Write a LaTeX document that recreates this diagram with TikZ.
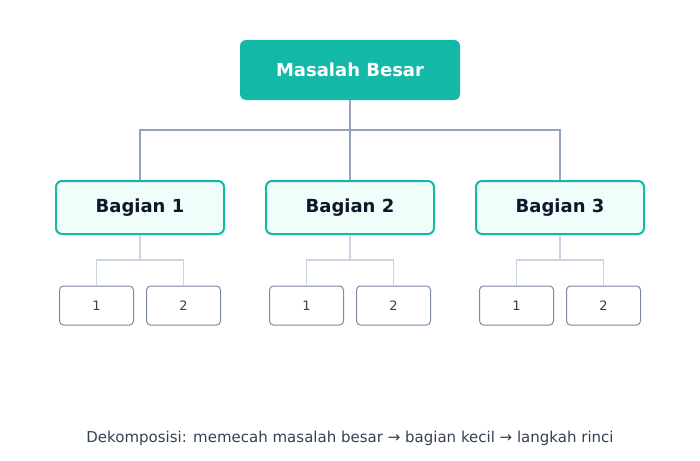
\documentclass[tikz,border=0pt]{standalone}
\usepackage{fontspec}
\setmainfont{DejaVu Sans}
\usetikzlibrary{positioning}
\definecolor{teal}{HTML}{14B8A6}
\definecolor{tealpale}{HTML}{F0FDFA}
\definecolor{slate}{HTML}{94A3B8}
\definecolor{slatelight}{HTML}{CBD5E1}
\definecolor{ink}{HTML}{0F172A}
\definecolor{smallink}{HTML}{334155}
\definecolor{smallbd}{HTML}{7C8AA5}
\begin{document}
\begin{tikzpicture}[%
	x=1pt, y=-1pt,
	every node/.style={font=\fontsize{13}{15}\selectfont},
	]
	% -------------------------------------------------
	% Box and connector styles
	\tikzset{
		root/.style={rectangle, rounded corners=6pt, fill=teal, text=white,
			minimum width=220pt, minimum height=60pt, font=\fontsize{18}{21}\selectfont\bfseries},
		part/.style={rectangle, rounded corners=6pt, draw=teal, line width=2pt, fill=tealpale,
			text=ink, minimum width=168pt, minimum height=53pt, font=\fontsize{18}{21}\selectfont\bfseries},
		leaf/.style={rectangle, rounded corners=4pt, draw=smallbd, line width=1pt, fill=white,
			text=smallink, minimum width=74pt, minimum height=39pt, font=\fontsize{13}{15}\selectfont},
		main/.style={draw=slate, line width=2.5pt},
		sub/.style={draw=slatelight, line width=1.5pt},
	}
	\useasboundingbox (0,0) rectangle (700,460);

	\node[root] (top) at (350,70) {Masalah Besar};
	\coordinate (bus) at (350,130);

	\foreach \i/\x in {1/140, 2/350, 3/560} {
		\node[part] (b\i) at (\x,207.5) {Bagian \i};
		\node[leaf] (b\i s1) at (\x-43.5,305.5) {1};
		\node[leaf] (b\i s2) at (\x+43.5,305.5) {2};
		\coordinate (b\i j) at (\x,260);
		\draw[main] (top.south) |- (bus) -| (b\i.north);
		\draw[sub] (b\i.south) -- (b\i j);
		\draw[sub] (b\i j) -| (b\i s1.north);
		\draw[sub] (b\i j) -| (b\i s2.north);
	}

	\node[text=smallink, font=\fontsize{15}{18}\selectfont] (cap) at (350,438)
		{Dekomposisi: memecah masalah besar → bagian kecil → langkah rinci};
\end{tikzpicture}
\end{document}
